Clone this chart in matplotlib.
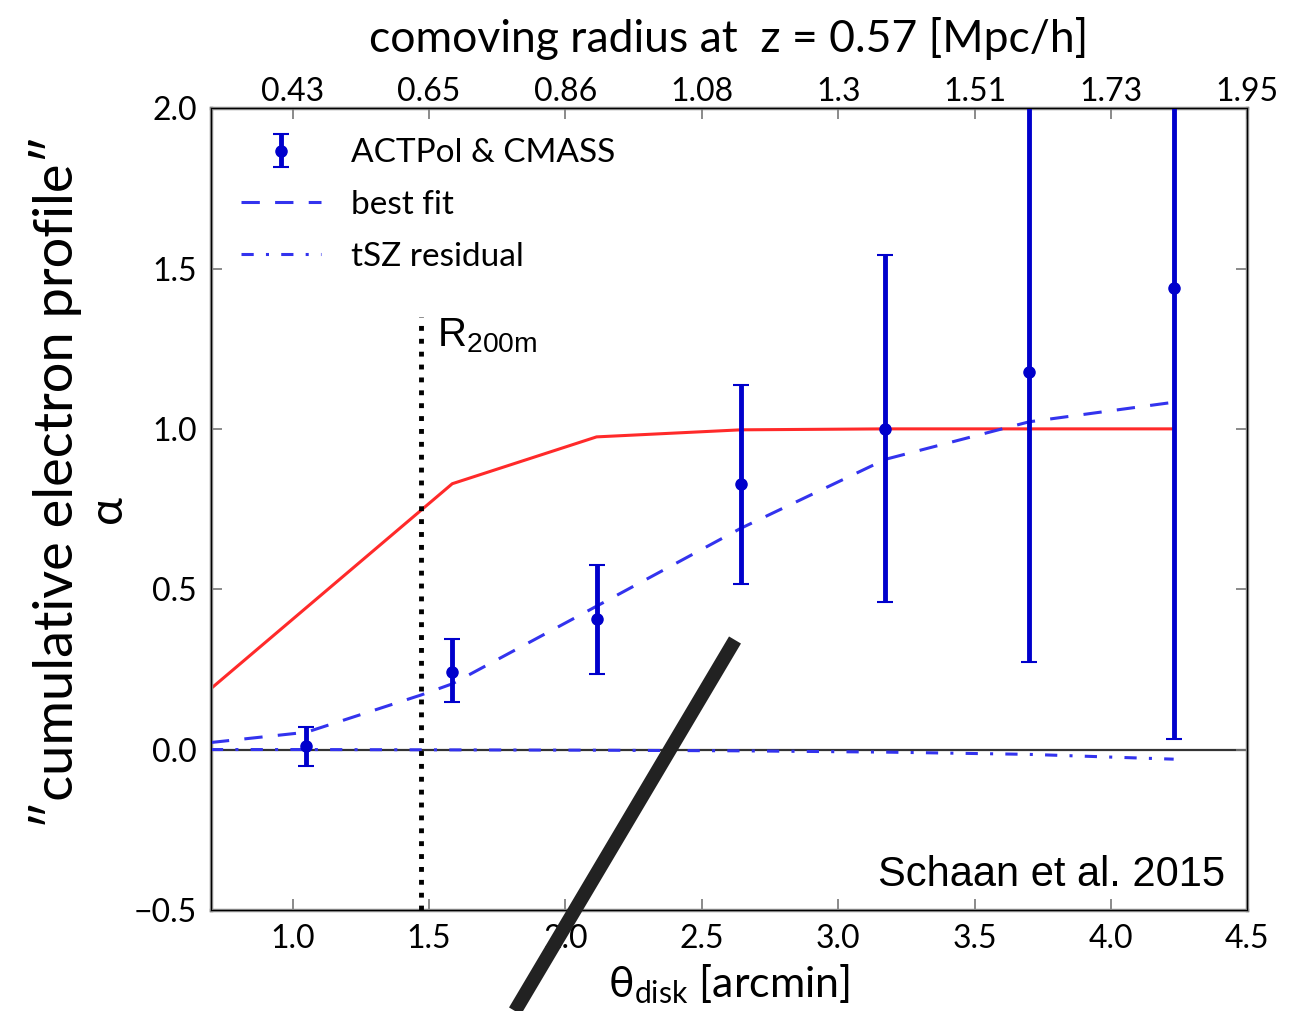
import numpy as np
import matplotlib
matplotlib.use("Agg")
import matplotlib.pyplot as plt
from matplotlib.lines import Line2D

plt.rcParams['font.family'] = ['Lato', 'DejaVu Sans']
plt.rcParams['mathtext.fontset'] = 'custom'
plt.rcParams['mathtext.rm'] = 'Lato'

# data
theta = [1.05, 1.585, 2.114, 2.643, 3.173, 3.70, 4.23]
alpha = [0.01, 0.243, 0.408, 0.829, 1.0, 1.177, 1.44]
err_lo = [0.06, 0.096, 0.171, 0.312, 0.54, 0.904, 1.407]
err_hi = [0.06, 0.102, 0.169, 0.309, 0.543, 1.2, 1.3]

fit_x = [0.7, 1.05, 1.47, 1.585, 2.114, 2.643, 3.173, 3.70, 4.23]
fit_y = [0.022, 0.054, 0.17, 0.205, 0.447, 0.69, 0.905, 1.022, 1.083]

tsz_x = [0.7, 1.05, 1.585, 2.114, 2.643, 3.173, 3.70, 4.23]
tsz_y = [0.0, 0.0, -0.001, -0.002, -0.004, -0.008, -0.015, -0.03]

model_x = [0.7, 1.585, 2.114, 2.643, 3.173, 3.70, 4.23]
model_y = [0.19, 0.829, 0.975, 0.997, 1.0, 1.0, 1.0]

r200 = 1.47
x_ticks = [1.0, 1.5, 2.0, 2.5, 3.0, 3.5, 4.0, 4.5]
top_labels = ['0.43', '0.65', '0.86', '1.08', '1.3', '1.51', '1.73', '1.95']
y_ticks = [-0.5, 0.0, 0.5, 1.0, 1.5, 2.0]

fig = plt.figure(figsize=(13.02, 10.11), dpi=100)
ax = fig.add_axes([0.162, 0.100, 0.796, 0.793])

ax.axhline(0, color='#333333', lw=1.6, zorder=1)
ax.plot(model_x, model_y, color='#ff2a2a', lw=2.2, zorder=2)
ax.plot(fit_x, fit_y, ls='--', color='#3333ee', lw=2.2, dashes=(6, 5), label='best fit', zorder=3)
ax.plot(tsz_x, tsz_y, ls='-.', color='#3333ee', lw=2.2, dashes=(4, 4, 1, 4), label='tSZ residual', zorder=3)
ax.errorbar(theta, alpha, yerr=[err_lo, err_hi], fmt='o', color='#0000cc', ms=8,
            elinewidth=3.5, capsize=6, capthick=1.5, label='ACTPol & CMASS', zorder=4)

ax.plot([r200, r200], [-0.5, 1.35], ls=':', color='black', lw=3.5, zorder=5)
ax.text(r200 + 0.06, 1.35, r'R$_{\mathregular{200m}}$', fontsize=29, va='top', ha='left',
        family=['Liberation Sans', 'DejaVu Sans'])
ax.text(4.42, -0.39, 'Schaan et al. 2015', fontsize=30, ha='right', va='center',
        family=['Liberation Sans', 'DejaVu Sans'])

ax.set_xlim(0.7, 4.5)
ax.set_ylim(-0.5, 2.0)
ax.set_xticks(x_ticks)
ax.set_xticklabels([f'{v:.1f}' for v in x_ticks])
ax.set_yticks(y_ticks)
ax.set_yticklabels(['\u22120.5', '0.0', '0.5', '1.0', '1.5', '2.0'])
ax.tick_params(direction='in', length=8, width=1.2, color='#777777', labelsize=23,
               right=True, pad=10)
for s in ax.spines.values():
    s.set_color('#888888')
    s.set_linewidth(2.5)

ax2 = ax.twiny()
ax2.set_xlim(ax.get_xlim())
ax2.set_xticks(x_ticks)
ax2.set_xticklabels(top_labels)
ax2.tick_params(direction='in', length=8, width=1.2, color='#777777', labelsize=23, pad=1)
ax2.set_xlabel('comoving radius at  z = 0.57 [Mpc/h]', fontsize=32, labelpad=18)

ax.set_xlabel(r'$\mathregular{\theta_{disk}}$ [arcmin]', fontsize=31, labelpad=6)
fig.text(0.043, 0.523, '\u2033cumulative electron profile\u2033', rotation=90, fontsize=39,
         ha='center', va='center')
fig.text(0.083, 0.497, '\u03b1', rotation=90, fontsize=34, ha='center', va='center')

h, l = ax.get_legend_handles_labels()
order = [2, 0, 1]
ax.legend([h[i] for i in order], [l[i] for i in order], loc='upper left', frameon=False,
          fontsize=24, handlelength=2.4, handletextpad=0.9, borderaxespad=0.5, labelspacing=0.65)

fig.add_artist(Line2D([735 / 1302, 515 / 1302], [1 - 640 / 1011, 0.0],
                      transform=fig.transFigure, color='#222222', lw=10, solid_capstyle='butt'))

fig.savefig('out.png', dpi=100)
